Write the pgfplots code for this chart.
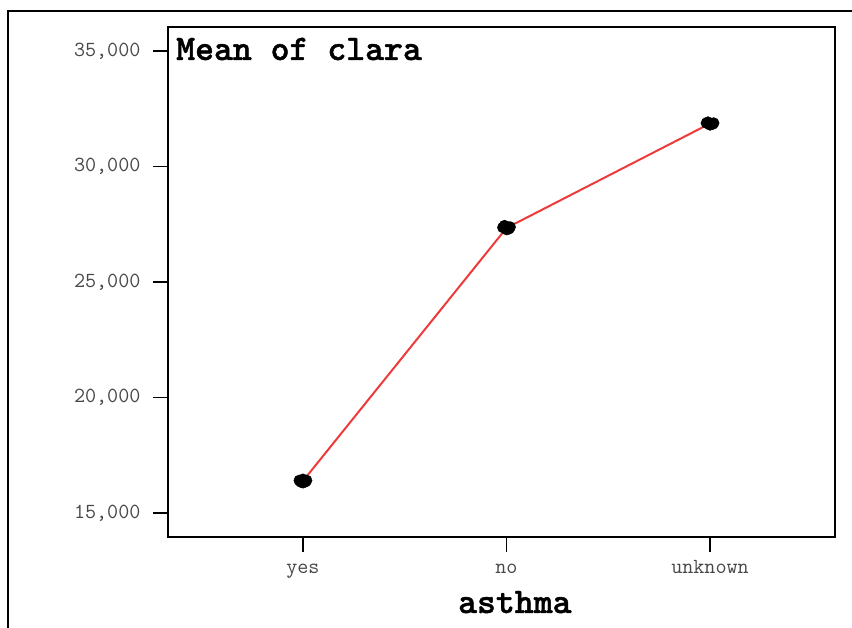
\documentclass[border=0pt]{standalone}
\usepackage{fontspec}
\setmainfont{Liberation Mono}
\newfontfamily\courr{Latin Modern Mono}
\newfontfamily\courb{Latin Modern Mono Light}[BoldFeatures={FakeBold=1.2}]
\usepackage{pgfplots}
\pgfplotsset{compat=1.18}
\definecolor{linered}{HTML}{EE3A3A}
\begin{document}
\begin{tikzpicture}
\begin{axis}[
  at={(168pt,91pt)}, anchor=south west,
  width=667pt, height=510pt, scale only axis,
  xmin=-0.663, xmax=2.614,
  ymin=13961, ymax=36039,
  xtick={0,1,2}, xticklabels={yes,no,unknown},
  ytick={15000,20000,25000,30000,35000},
  scaled y ticks=false,
  /pgf/number format/assume math mode=true,
  /pgf/number format/.cd, 1000 sep={,}, /pgfplots/.cd,
  tick align=outside, xtick pos=left, ytick pos=left,
  major tick length=15pt,
  every tick/.style={black, line width=1.8pt},
  axis line style={line width=2.4pt},
  ticklabel style={font=\courr\fontsize{21.5}{24}\selectfont, text=black!72},
  yticklabel style={xshift=-9pt},
  xticklabel style={text height=15pt, text depth=5pt, yshift=-3pt},
  xlabel={\courb\bfseries asthma},
  xlabel style={font=\fontsize{36}{40}\selectfont, at={(axis description cs:0.52,0)}, anchor=base, yshift=-76pt},
  clip=false,
]
\addplot[linered, line width=2pt] coordinates {(0,16385) (1,27338) (2,31861)};
\addplot[only marks, mark=*, mark size=5.5pt, black] coordinates {
  (-0.018,16410) (0.018,16410) (0,16310) (-0.01,16340) (0.012,16350) (0,16460)
  (0.982,27360) (1.018,27380) (1,27270) (0.99,27440) (1.012,27300) (1,27400)
  (1.982,31880) (2.018,31880) (2,31800) (1.99,31920) (2.012,31830) (2,31861)
};
\node[anchor=base west, font=\courb\bfseries\fontsize{36}{40}\selectfont, inner sep=0pt] at ([xshift=8pt,yshift=-33pt]rel axis cs:0,1) {Mean of clara};
\end{axis}
\draw[line width=2.2pt] (8pt,-20pt) -- (8pt,617pt) -- (880pt,617pt);
\pgfresetboundingbox
\useasboundingbox (0pt,0pt) rectangle (852pt,628pt);
\end{tikzpicture}
\end{document}
